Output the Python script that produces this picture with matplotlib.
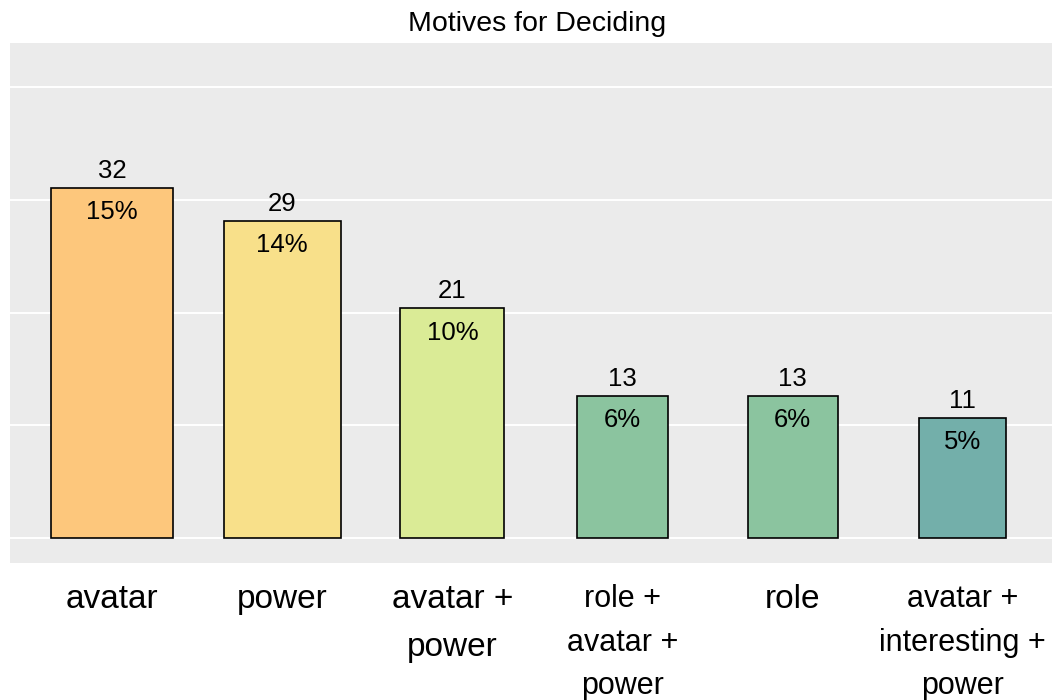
import matplotlib.pyplot as plt
import numpy as np

plt.rcParams['font.family'] = ['Liberation Sans', 'DejaVu Sans']

# data
motives = ["avatar", "power", "avatar +\npower", "role +\navatar +\npower",
           "role", "avatar +\ninteresting +\npower"]
counts = [32, 29, 21, 13, 13, 11]
pct_labels = ["15%", "14%", "10%", "6%", "6%", "5%"]
total_n = 206  # respondents; gridlines sit every 5% of this
colors = ["#FDC77C", "#F8E08A", "#DAEB96", "#8BC49F", "#8BC49F", "#73AFAA"]
label_sizes = [24, 24, 24, 22, 24, 22]

fig = plt.figure(figsize=(10.52, 7.0), dpi=100)
ax = fig.add_axes([10 / 1052, 137 / 700, 1054.8 / 1052, 520.3 / 700])
ax.set_facecolor("#EBEBEB")

x = np.arange(len(counts))
widths = 0.4 + np.array(counts) / 100.0
ax.bar(x, counts, width=widths, color=colors, edgecolor="black",
       linewidth=1.2, zorder=3)

# gridlines every 5% of responses
grid = np.arange(0, 25, 5) / 100.0 * total_n
for g in grid:
    ax.axhline(g, color="white", lw=1.4, zorder=1)

for xi, c, p in zip(x, counts, pct_labels):
    ax.annotate(str(c), (xi, c), xytext=(0, 3.5), textcoords="offset points",
                ha="center", va="bottom", fontsize=18.5, zorder=4)
    ax.annotate(p, (xi, c), xytext=(0, -9), textcoords="offset points",
                ha="center", va="top", fontsize=18.5, zorder=4)

ax.set_xlim(-0.6, len(counts) - 0.4)
ax.set_ylim(-2.31, 45.29)
ax.set_yticks([])
ax.set_xticks(x)
ax.set_xticklabels(motives)
for lab, s in zip(ax.get_xticklabels(), label_sizes):
    lab.set_fontsize(s)
    lab.set_linespacing(1.71 if s == 24 else 1.6)
ax.tick_params(axis="x", length=0, pad=15)
for s in ax.spines.values():
    s.set_visible(False)

fig.text((10 + 1064.8) / 2 / 1052, 1 - 31 / 700, "Motives for Deciding",
         ha="center", va="baseline", fontsize=20.5)

fig.savefig("out.png", dpi=100)
